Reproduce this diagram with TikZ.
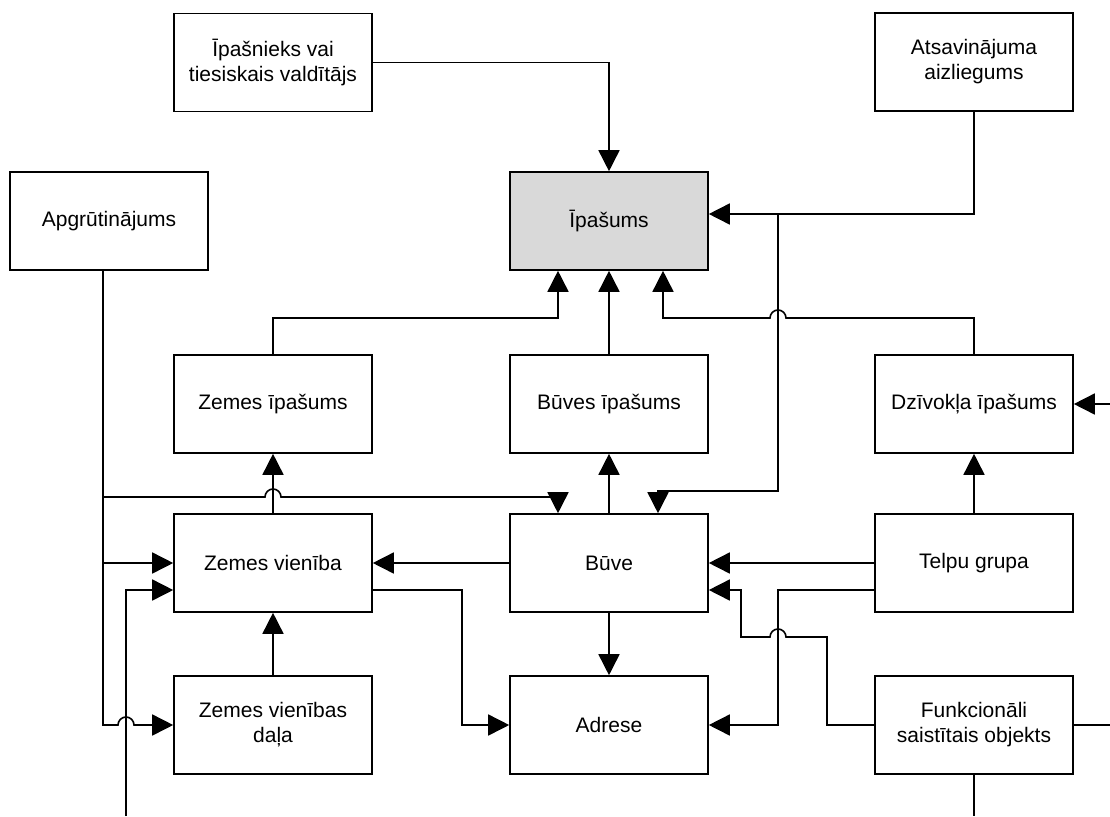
\documentclass[tikz,border=0pt]{standalone}
\usepackage{fontspec}
\setmainfont{Liberation Sans}
\usetikzlibrary{arrows.meta}
\begin{document}
\begin{tikzpicture}[x=1pt,y=-1pt,
  box/.style={draw=black, line width=1.6pt, fill=white, minimum width=198pt, minimum height=98pt,
    align=center, inner sep=2pt, font=\fontsize{21}{25}\selectfont},
  conn/.style={draw=black, line width=1.6pt},
  arr/.style={conn, -{Triangle[length=21pt,width=21pt]}}]
\useasboundingbox (0,0) rectangle (1110,816);
% nodes
\node[box] (own) at (273,62.5) {Īpašnieks vai\\tiesiskais valdītājs};
\node[box] (ats) at (974,62) {Atsavinājuma\\aizliegums};
\node[box] (apg) at (109,221) {Apgrūtinājums};
\node[box, fill={rgb,255:red,217;green,217;blue,217}] (ipas) at (609,221) {Īpašums};
\node[box] (zip) at (273,404) {Zemes īpašums};
\node[box] (bip) at (609,404) {Būves īpašums};
\node[box] (dip) at (974,404) {Dzīvokļa īpašums};
\node[box] (zv) at (273,563) {Zemes vienība};
\node[box] (buve) at (609,563) {Būve};
\node[box] (tg) at (974,563) {Telpu grupa};
\node[box] (zvd) at (273,725) {Zemes vienības\\daļa};
\node[box] (adr) at (609,725) {Adrese};
\node[box] (fso) at (974,725) {Funkcionāli\\saistītais objekts};
\coordinate (e1) at (1110,404);
\coordinate (e2) at (1110,725);
\coordinate (e3) at (974,816);
\coordinate (e4) at (126,816);
% connectors to Īpašums
\draw[arr] (own.east) -| (ipas.north);
\draw[arr] (ats.south) |- ([yshift=7pt]ipas.east);
\draw[arr] (ats.south) |- (778,214) -- (778,491) -| ([xshift=49pt]buve.north);
\draw[arr] (zip.north) |- (558,318) -- ([xshift=-51pt]ipas.south);
\draw[arr] (bip.north) -- (ipas.south);
\draw[arr] (dip.north) |- (786,318) arc[start angle=0,end angle=180,radius=8pt] -- (663,318) -- ([xshift=54pt]ipas.south);
% middle
\draw[arr] (buve.north) -- (bip.south);
\draw[arr] (zv.north) -- (zip.south);
\draw[arr] (tg.north) -- (dip.south);
\draw[arr] (buve.west) -- (zv.east);
\draw[arr] (tg.west) -- (buve.east);
\draw[arr] (zvd.north) -- (zv.south);
\draw[arr] (buve.south) -- (adr.north);
% Apgrūtinājums
\draw[arr] ([xshift=-6pt]apg.south) |- (265,497) arc[start angle=180,end angle=0,radius=8pt] -- (558,497) -- ([xshift=-51pt]buve.north);
\draw[arr] ([xshift=-6pt]apg.south) |- (zv.west);
\draw[arr] ([xshift=-6pt]apg.south) |- (118,725) arc[start angle=180,end angle=0,radius=8pt] -- (zvd.west);
% to Adrese
\draw[arr] ([yshift=-27pt]zv.east) -| (462,725) -- (adr.west);
\draw[arr] ([yshift=-27pt]tg.west) -| (778,725) -- (adr.east);
% Funkcionāli
\draw[arr] (fso.west) -| (827,637) -- (786,637) arc[start angle=0,end angle=180,radius=8pt] -- (741,637) |- ([yshift=-27pt]buve.east);
% off-page
\draw[arr] (e1) -- (dip.east);
\draw[conn] (fso.east) -- (e2);
\draw[conn] (fso.south) -- (e3);
\draw[arr] (e4) |- ([yshift=-27pt]zv.west);
\end{tikzpicture}
\end{document}
